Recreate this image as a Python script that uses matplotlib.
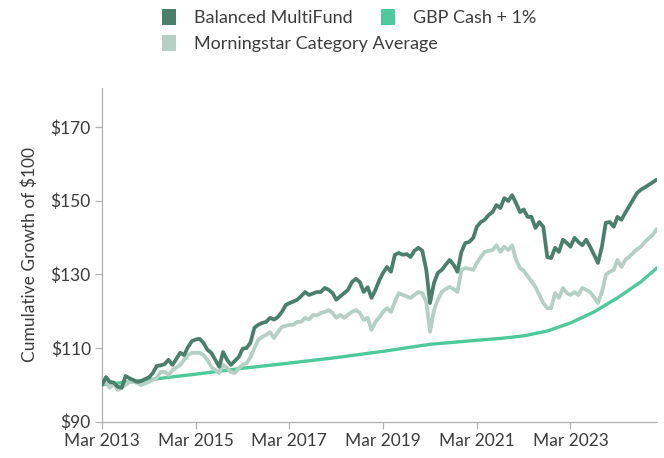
import numpy as np
import pandas as pd
import matplotlib
matplotlib.use("Agg")
import matplotlib.pyplot as plt
import matplotlib.dates as mdates
from matplotlib.patches import Patch

plt.rcParams['font.family'] = ['Lato', 'DejaVu Sans']

# months counted from Mar 2013
fund_months = list(range(0, 143))
fund_values = [100.0, 102.1, 100.8, 100.6, 99.5, 99.2, 102.4, 101.8, 101.3, 100.8,
               101.0, 101.6, 102.0, 103.2, 105.1, 105.3, 105.6, 106.8, 105.4, 107.0,
               108.7, 108.1, 110.3, 111.9, 112.3, 112.5, 111.4, 109.5, 108.7, 106.8,
               104.9, 108.9, 106.8, 105.4, 106.5, 107.6, 109.8, 110.0, 111.4, 115.5,
               116.3, 116.8, 117.1, 118.2, 117.7, 118.4, 119.8, 121.7, 122.2, 122.6,
               123.1, 124.1, 125.2, 124.4, 124.8, 125.2, 125.2, 126.3, 125.8, 124.9,
               123.1, 124.0, 124.9, 125.8, 127.9, 128.8, 127.9, 125.2, 126.5, 123.6,
               125.8, 128.5, 130.4, 132.0, 130.7, 135.3, 135.8, 135.3, 135.5, 134.7,
               136.4, 137.2, 136.4, 131.2, 122.2, 127.7, 130.4, 131.2, 132.6, 133.9,
               132.6, 130.7, 136.1, 138.5, 138.8, 139.9, 142.9, 144.2, 144.8, 146.1,
               146.9, 148.8, 148.0, 150.7, 149.9, 151.5, 149.3, 146.9, 147.6, 145.6,
               145.6, 142.6, 144.2, 142.9, 134.7, 134.4, 137.2, 136.1, 139.4, 138.5,
               137.5, 139.9, 138.8, 137.9, 139.4, 137.5, 135.3, 133.1, 137.5, 144.0,
               144.2, 142.9, 145.6, 144.8, 146.7, 148.5, 150.2, 152.1, 153.0, 153.6,
               154.3, 155.0, 155.7]

cat_months = list(range(0, 143))
cat_values = [100.0, 100.8, 99.2, 100.5, 98.6, 99.2, 100.0, 100.8, 100.8, 100.5,
              99.9, 100.4, 100.8, 101.3, 101.9, 103.5, 103.5, 102.7, 104.0, 104.7,
              105.4, 106.8, 108.1, 108.7, 108.7, 108.7, 108.1, 106.8, 104.9, 104.0,
              103.2, 105.4, 104.6, 103.5, 103.2, 104.5, 105.4, 105.9, 107.5, 110.0,
              112.2, 113.0, 113.6, 114.3, 112.7, 114.3, 115.7, 116.0, 116.3, 116.3,
              117.1, 117.1, 118.2, 117.7, 119.0, 118.8, 119.5, 119.8, 120.3, 119.5,
              118.2, 119.0, 118.2, 119.0, 119.8, 120.3, 119.5, 117.6, 118.2, 114.9,
              117.1, 118.4, 119.8, 120.8, 119.8, 122.5, 124.9, 124.4, 124.0, 123.6,
              124.4, 125.2, 124.9, 122.5, 114.4, 120.3, 123.1, 125.2, 126.0, 126.6,
              126.0, 125.2, 131.2, 131.7, 131.5, 131.2, 133.1, 134.7, 136.1, 136.4,
              136.6, 137.9, 136.1, 137.5, 136.6, 137.9, 133.9, 131.7, 131.0, 129.5,
              128.0, 126.6, 124.4, 122.2, 120.8, 120.8, 124.9, 123.6, 126.3, 124.9,
              124.4, 125.2, 124.4, 126.3, 125.8, 125.2, 123.8, 122.2, 125.2, 129.8,
              130.7, 131.2, 133.9, 132.0, 133.9, 134.8, 135.8, 136.8, 137.5, 138.8,
              139.8, 140.7, 142.3]

cash_months = [0, 12, 24, 36, 48, 60, 72, 84, 96, 102, 108, 114, 120, 126, 132, 138, 142]
cash_values = [100.0, 101.4, 102.9, 104.5, 105.9, 107.4, 109.1, 111.0, 112.1, 112.6,
               113.3, 114.6, 116.8, 119.8, 123.6, 128.0, 131.7]

tick_years = [2013, 2015, 2017, 2019, 2021, 2023]
y_ticks = [90, 110, 130, 150, 170]

start = pd.Timestamp('2013-03-01')


def to_dates(months):
    return [start + pd.DateOffset(months=m) for m in months]


c_fund = '#4a7f6c'
c_cash = '#4ec99b'
c_cat = '#b4cfc4'
txt = '#3c3c3c'
axis_col = '#b0b0b0'

fig = plt.figure(figsize=(6.64, 4.58), dpi=100)
ax = fig.add_axes([0.1536, 0.0793, 0.8354, 0.7287])

ax.plot(to_dates(cash_months), cash_values, color=c_cash, lw=2.4,
        solid_capstyle='round', solid_joinstyle='round', zorder=2)
ax.plot(to_dates(cat_months), cat_values, color=c_cat, lw=2.7,
        solid_capstyle='round', solid_joinstyle='round', zorder=3)
ax.plot(to_dates(fund_months), fund_values, color=c_fund, lw=2.7,
        solid_capstyle='round', solid_joinstyle='round', zorder=4)

ax.set_ylim(90, 180.6)
ax.set_xlim(start, start + pd.DateOffset(months=142))
ax.set_yticks(y_ticks)
ax.set_yticklabels(['\\$%d' % v for v in y_ticks])
xt = [pd.Timestamp('%d-03-01' % y) for y in tick_years]
ax.set_xticks(xt)
ax.set_xticklabels(['Mar %d' % y for y in tick_years])

for s in ['top', 'right']:
    ax.spines[s].set_visible(False)
for s in ['left', 'bottom']:
    ax.spines[s].set_color(axis_col)
    ax.spines[s].set_linewidth(0.9)
ax.tick_params(axis='both', length=5, width=0.9, color=axis_col,
               labelsize=12.5, labelcolor=txt, pad=3)
ax.set_ylabel('Cumulative Growth of \\$100', fontsize=12.5, color=txt, labelpad=9)

# legend: first row two entries, second row one entry
leg_kw = dict(frameon=False, fontsize=13, handlelength=0.75, handleheight=1.0,
              handletextpad=1.0, columnspacing=1.6, borderpad=0, borderaxespad=0,
              loc='upper left', bbox_transform=fig.transFigure)
leg1 = fig.legend([Patch(facecolor=c_fund), Patch(facecolor=c_cash)],
                  ['Balanced MultiFund', 'GBP Cash + 1%'], ncol=2,
                  bbox_to_anchor=(0.244, 0.981), **leg_kw)
leg2 = fig.legend([Patch(facecolor=c_cat)], ['Morningstar Category Average'],
                  bbox_to_anchor=(0.244, 0.924), **leg_kw)
for lg in (leg1, leg2):
    for t in lg.get_texts():
        t.set_color(txt)

fig.savefig('out.png', dpi=100)
